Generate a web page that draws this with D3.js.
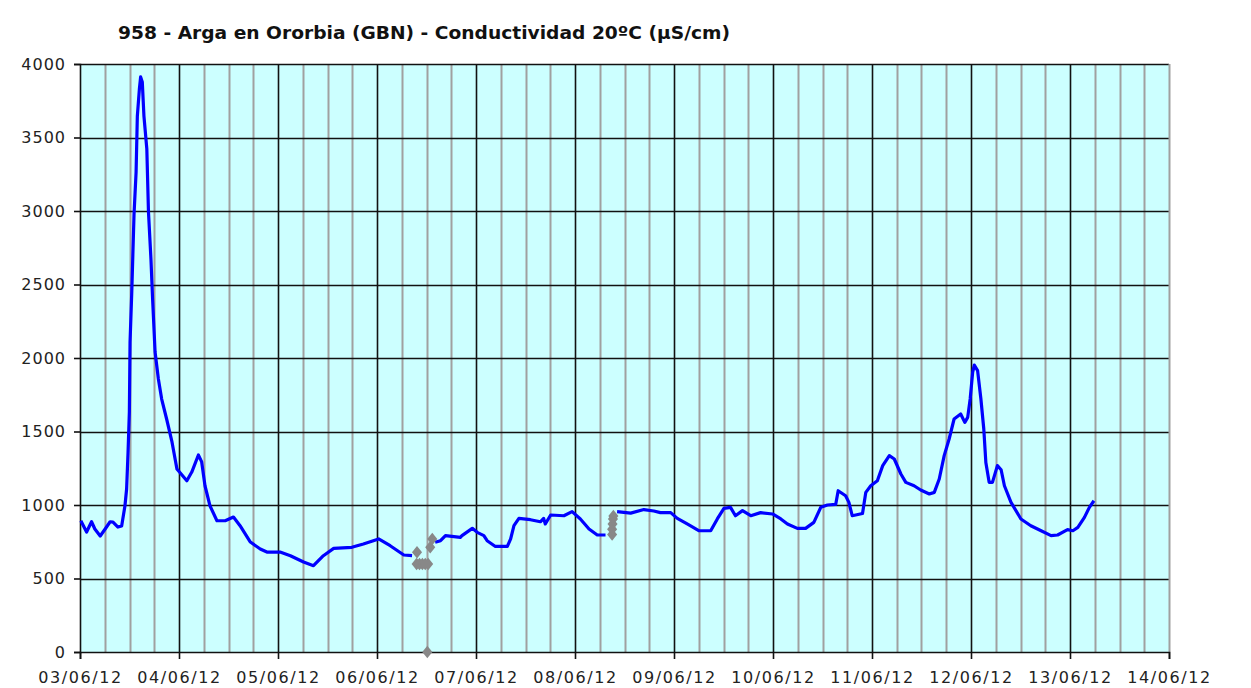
<!DOCTYPE html>
<html>
<head>
<meta charset="utf-8">
<script src="https://cdn.jsdelivr.net/npm/d3@7"></script>
<style>
  html, body { margin: 0; padding: 0; background: #ffffff; }
  svg { display: block; }
</style>
</head>
<body>
<svg id="chart" width="1251" height="688"></svg>
<script>
// ---------- DATA ----------
const title = "958 - Arga en Ororbia (GBN) - Conductividad 20ºC (µS/cm)";
const startDate = new Date(2012, 5, 3, 0, 0);
const endDate = new Date(2012, 5, 14, 0, 0);
const yTicks = [0, 500, 1000, 1500, 2000, 2500, 3000, 3500, 4000];

// hours since 03/06/12 00:00 (valid series, segments split by gaps)
const seg1Hours = [0.2,1.6,2.8,3.6,4.9,6.1,7.3,8.0,9.2,10.1,10.9,11.3,11.65,11.96,12.13,12.55,13.1,13.6,13.9,14.4,14.7,15.1,15.5,16.2,16.6,17.2,17.6,18.2,19.0,19.8,21.0,22.3,23.5,25.9,27.1,28.7,29.5,30.3,31.5,33.2,35.2,37.2,38.8,41.3,43.7,45.3,48.5,51.0,54.2,56.6,59.0,61.5,65.9,68.7,72.4,75.2,78.5,80.5];
const seg1Values = [893,816,886,837,789,837,886,884,850,857,995,1109,1360,1633,2109,2449,2980,3265,3646,3830,3912,3878,3646,3422,2993,2673,2401,2041,1857,1721,1585,1429,1245,1165,1224,1340,1293,1131,995,893,893,918,859,748,701,680,680,655,612,587,655,705,712,735,769,723,660,655];

const seg2Hours = [86.1,87.4,88.6,92.2,92.6,95.1,96.3,97.9,98.7,100.7,103.6,104.4,105.2,106.4,109.2,111.6,112.4,112.8,114.1,117.3,119.3,121.3,123.4,125.4,127.4];
const seg2Values = [746,757,792,780,792,841,814,792,757,718,718,769,859,909,900,886,909,871,932,927,955,905,837,796,796];

const seg3Hours = [130.2,133.5,136.7,139.1,140.7,143.2,144.8,147.2,150.0,152.9,154.5,156.1,157.7,158.9,160.6,162.6,165.0,167.9,169.9,171.5,173.9,175.9,177.9,179.6,181.2,183.2,183.8,185.6,186.4,187.2,189.7,190.5,191.7,193.3,194.6,196.2,197.4,199.0,200.2,202.2,203.8,205.9,207.1,208.3,209.5,210.7,211.9,213.5,214.5,215.2,215.8,216.4,216.8,217.6,218.4,219.1,219.6,220.4,221.2,222.4,223.3,224.1,225.7,228.1,230.5,233.0,235.4,237.0,239.4,240.7,241.9,243.5,244.7,245.8];
const seg3Values = [955,945,969,959,948,948,909,871,825,825,905,977,984,927,962,927,948,939,905,871,841,841,882,985,1000,1004,1097,1063,1018,927,942,1086,1131,1165,1268,1336,1313,1211,1154,1131,1102,1075,1086,1177,1336,1449,1585,1619,1562,1596,1721,1902,1952,1914,1721,1517,1289,1154,1154,1268,1240,1131,1018,905,859,825,792,796,832,825,848,916,984,1029];

// invalid / flagged readings (grey markers)
const flagHours = [81.7,81.6,82.3,83.0,83.7,84.4,84.2,84.9,85.4,129.0,129.0,129.1,129.2,129.3];
const flagValues = [678,599,599,599,599,599,0,712,769,800,835,870,905,925];

// ---------- CHART ----------
const svg = d3.select("#chart");
const margin = { left: 80, right: 1169, top: 64, bottom: 652 };

const x = d3.scaleTime().domain([startDate, endDate]).range([margin.left, margin.right]);
const y = d3.scaleLinear().domain([0, 4000]).range([margin.bottom, margin.top]);
const hourDate = h => d3.timeMinute.offset(startDate, Math.round(h * 60));

// background
svg.append("rect")
  .attr("x", margin.left).attr("y", margin.top)
  .attr("width", margin.right - margin.left).attr("height", margin.bottom - margin.top)
  .attr("fill", "#ccffff");

// minor vertical grid (every 6 h)
const minorTicks = d3.timeHour.every(6).range(startDate, d3.timeHour.offset(endDate, 1))
  .filter(d => d.getHours() !== 0);
svg.append("g").selectAll("line").data(minorTicks).join("line")
  .attr("x1", d => Math.round(x(d)) + 0.5).attr("x2", d => Math.round(x(d)) + 0.5)
  .attr("y1", margin.top).attr("y2", margin.bottom)
  .attr("stroke", "#a0a0a0").attr("stroke-width", 2);

// major vertical grid (every day)
const dayTicks = d3.timeDay.range(startDate, d3.timeHour.offset(endDate, 1));
svg.append("g").selectAll("line").data(dayTicks.slice(1, -1)).join("line")
  .attr("x1", d => Math.round(x(d)) + 0.5).attr("x2", d => Math.round(x(d)) + 0.5)
  .attr("y1", margin.top).attr("y2", margin.bottom)
  .attr("stroke", "#111").attr("stroke-width", 1.6);

// horizontal grid
svg.append("g").selectAll("line").data(yTicks.slice(1)).join("line")
  .attr("x1", margin.left).attr("x2", margin.right)
  .attr("y1", d => Math.round(y(d)) + 0.5).attr("y2", d => Math.round(y(d)) + 0.5)
  .attr("stroke", "#111").attr("stroke-width", 1.6);

// right frame (grey)
svg.append("line")
  .attr("x1", margin.right + 0.5).attr("x2", margin.right + 0.5)
  .attr("y1", margin.top).attr("y2", margin.bottom)
  .attr("stroke", "#a0a0a0").attr("stroke-width", 2);

// y axis
const yAxis = d3.axisLeft(y).tickValues(yTicks).tickSize(6).tickPadding(8).tickFormat(d3.format("d"));
const gy = svg.append("g").attr("transform", `translate(${margin.left},0)`).call(yAxis);
gy.select(".domain").attr("stroke", "#111").attr("stroke-width", 1.6);
gy.selectAll(".tick line").attr("stroke", "#111").attr("stroke-width", 1.6);
gy.selectAll(".tick text")
  .attr("font-family", "'DejaVu Sans', Verdana, sans-serif")
  .attr("font-size", 16).attr("fill", "#222")
  .style("letter-spacing", "1px");

// x axis
const xAxis = d3.axisBottom(x).tickValues(dayTicks).tickSize(7).tickPadding(13)
  .tickFormat(d3.timeFormat("%d/%m/%y"));
const gx = svg.append("g").attr("transform", `translate(0,${margin.bottom})`).call(xAxis);
gx.select(".domain").attr("stroke", "#111").attr("stroke-width", 1.6);
gx.selectAll(".tick line").attr("stroke", "#111").attr("stroke-width", 1.6);
gx.selectAll(".tick text")
  .attr("font-family", "'DejaVu Sans', Verdana, sans-serif")
  .attr("font-size", 16).attr("fill", "#222")
  .style("letter-spacing", "1.6px");

// series lines
const line = d3.line().x(d => x(hourDate(d[0]))).y(d => y(d[1]));
const segs = [[seg1Hours, seg1Values], [seg2Hours, seg2Values], [seg3Hours, seg3Values]];
svg.append("g").selectAll("path").data(segs.map(([h, v]) => h.map((t, i) => [t, v[i]]))).join("path")
  .attr("d", line)
  .attr("fill", "none").attr("stroke", "#0000ff").attr("stroke-width", 3.2)
  .attr("stroke-linejoin", "round");

// flagged points (grey diamonds)
const diamond = d3.symbol().type(d3.symbolDiamond).size(45);
svg.append("g").selectAll("path").data(flagHours.map((h, i) => [h, flagValues[i]])).join("path")
  .attr("d", diamond)
  .attr("transform", d => `translate(${x(hourDate(d[0]))},${y(d[1])}) scale(1.4,1)`)
  .attr("fill", "#888");

// title
svg.append("text")
  .attr("x", 118).attr("y", 39)
  .attr("font-family", "Verdana, 'DejaVu Sans', sans-serif")
  .attr("font-weight", "bold").attr("font-size", 17)
  .attr("fill", "#111")
  .attr("textLength", 612).attr("lengthAdjust", "spacingAndGlyphs")
  .text(title);
</script>
</body>
</html>
